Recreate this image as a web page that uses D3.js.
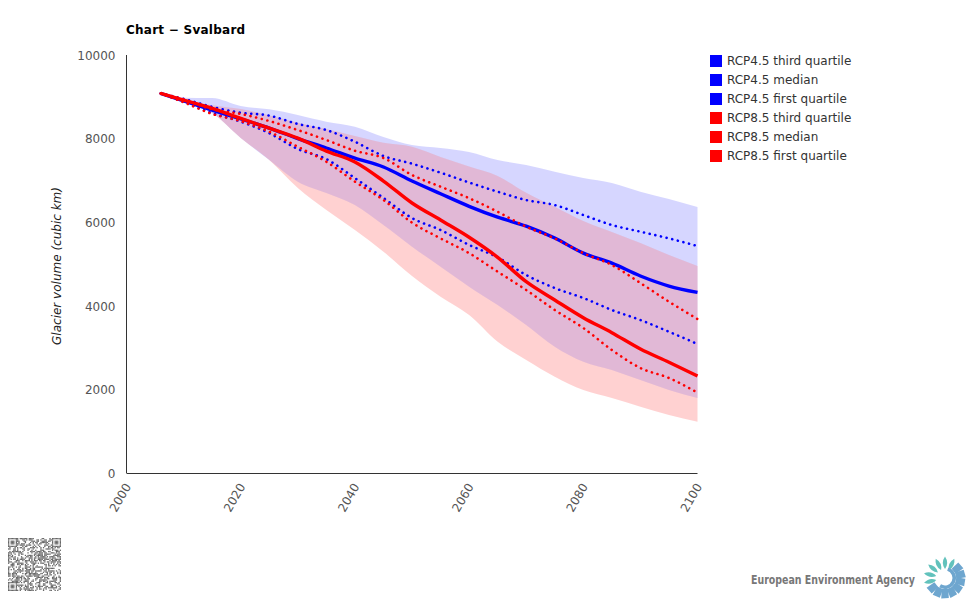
<!doctype html>
<html>
<head>
<meta charset="utf-8" />
<title>Chart - Svalbard</title>
<script src="https://cdn.jsdelivr.net/npm/d3@7"></script>
<style>
  body{margin:0;padding:0;background:#fff;}
  text{font-family:"DejaVu Sans",sans-serif;}
</style>
</head>
<body>
<script>
// years shared by all the series
var years = [2006,2010,2015,2020,2025,2030,2035,2040,2045,2050,2055,2060,2065,2070,2075,2080,2085,2090,2095,2100];

// medians and quartiles (cubic km)
var rcp45Median = [9080,8900,8680,8470,8250,8000,7775,7535,7320,6985,6680,6380,6120,5905,5620,5260,5020,4713,4473,4320];
var rcp45Q3     = [9080,8950,8760,8620,8550,8350,8205,7925,7584,7400,7185,6950,6730,6530,6410,6172,5933,5773,5613,5430];
var rcp45Q1     = [9080,8880,8610,8405,8130,7750,7510,7055,6580,6100,5813,5455,5160,4737,4425,4187,3900,3660,3380,3086];
var rcp85Median = [9080,8923,8725,8485,8250,8010,7700,7440,6985,6460,6052,5640,5160,4577,4140,3716,3357,2966,2650,2320];
var rcp85Q3     = [9080,8940,8700,8590,8420,8205,7966,7710,7535,7130,6850,6575,6250,5892,5613,5260,4976,4545,4098,3684];
var rcp85Q1     = [9080,8870,8590,8420,8165,7806,7447,6970,6531,5990,5613,5260,4816,4378,3900,3469,2943,2512,2273,1921];

// shaded ranges
var rcp45High = [9080,8980,8970,8780,8700,8565,8405,8285,8040,7847,7775,7680,7488,7368,7208,7057,6938,6730,6555,6364];
var rcp45Low  = [9080,8880,8610,8014,7488,6970,6700,6411,5933,5414,4935,4457,4019,3540,3022,2663,2464,2225,1986,1794];
var rcp85High = [9080,8950,8800,8708,8550,8380,8230,8062,7900,7806,7560,7330,7105,6705,6371,6029,5765,5500,5215,4952];
var rcp85Low  = [9080,8880,8610,8014,7488,6818,6292,5813,5294,4713,4218,3780,3141,2703,2304,1986,1794,1586,1388,1227];

var yTicks = [0,2000,4000,6000,8000,10000];
var xTicks = [2000,2020,2040,2060,2080,2100];
var legendLabels = ["RCP4.5 third quartile","RCP4.5 median","RCP4.5 first quartile","RCP8.5 third quartile","RCP8.5 median","RCP8.5 first quartile"];
var legendColors = ["#0000ff","#0000ff","#0000ff","#ff0000","#ff0000","#ff0000"];

var svg = d3.select("body").append("svg").attr("width",975).attr("height",600).style("display","block");

var x = d3.scaleLinear().domain([2000,2100]).range([126.5,697.5]);
var y = d3.scaleLinear().domain([0,10000]).range([473,55]);

svg.append("text").attr("x",126).attr("y",34).attr("font-size","12px").attr("font-weight","bold").attr("letter-spacing","0.25px").attr("fill","#000").text("Chart \u2212 Svalbard");

var area = d3.area().curve(d3.curveMonotoneX).x(function(d){return x(d.year);}).y0(function(d){return y(d.low);}).y1(function(d){return y(d.high);});
function bandPoints(high,low){
  return years.map(function(yr,i){return {year:yr,high:high[i],low:low[i]};});
}
function drawBand(high,low,color,opacity){
  return svg.append("path").datum(bandPoints(high,low)).attr("d",area).attr("fill",color).attr("fill-opacity",opacity);
}
function drawLine(values,color,dotted){
  var line = d3.line().curve(d3.curveMonotoneX).x(function(d,i){return x(years[i]);}).y(function(d){return y(d);});
  var p = svg.append("path").datum(values).attr("d",line).attr("fill","none").attr("stroke",color);
  if(dotted){
    p.attr("stroke-width",2.6).attr("stroke-linecap","round").attr("stroke-dasharray","0.1,5.7");
  } else {
    p.attr("stroke-width",3.4).attr("stroke-linejoin","round");
  }
}

drawBand(rcp45High,rcp45Low,"#0000ff",0.16);
drawBand(rcp85High,rcp85Low,"#ff0000",0.18);
// the overlap is a bit paler than plain alpha gives
svg.append("clipPath").attr("id","blueBand").append("path").attr("d",area(bandPoints(rcp45High,rcp45Low)));
drawBand(rcp85High,rcp85Low,"#ffffff",0.12).attr("clip-path","url(#blueBand)");

drawLine(rcp45Q3,"#0000ff",true);
drawLine(rcp45Median,"#0000ff",false);
drawLine(rcp45Q1,"#0000ff",true);
drawLine(rcp85Q3,"#ff0000",true);
drawLine(rcp85Median,"#ff0000",false);
drawLine(rcp85Q1,"#ff0000",true);

// axes, no tick marks
var yAxis = svg.append("g").attr("transform","translate(126.5,0)")
  .call(d3.axisLeft(y).tickValues(yTicks).tickSize(0).tickPadding(11).offset(0).tickFormat(d3.format("d")));
var xAxis = svg.append("g").attr("transform","translate(0,473.5)")
  .call(d3.axisBottom(x).tickValues(xTicks).tickSize(0).offset(0).tickFormat(d3.format("d")));
svg.selectAll(".domain").attr("stroke","#333").attr("stroke-width",1);
yAxis.selectAll("text").attr("font-size","12px").attr("fill","#555").attr("font-family","DejaVu Sans").attr("dy","0.4em");
xAxis.selectAll("text").attr("font-size","12px").attr("fill","#555").attr("font-family","DejaVu Sans")
  .attr("text-anchor","end").attr("dy",0).attr("y",0)
  .attr("transform","translate(5,13) rotate(-60)");

svg.append("text").attr("transform","translate(61,266) rotate(-90)").attr("text-anchor","middle")
  .attr("font-size","12px").attr("font-style","italic").attr("fill","#222").text("Glacier volume (cubic km)");

// legend
var legend = svg.selectAll(".legend").data(legendLabels).enter().append("g").attr("class","legend")
  .attr("transform",function(d,i){return "translate(710,"+(55+i*19)+")";});
legend.append("rect").attr("width",12).attr("height",12).attr("fill",function(d,i){return legendColors[i];});
legend.append("text").attr("x",17).attr("y",10).attr("font-size","12px").attr("fill","#333").text(function(d){return d;});

// qr style block, the modules are only a texture
var qrSize = 41, cell = 53/qrSize, seed = 7;
var qr = svg.append("g").attr("transform","translate(8,538)");
function isFinder(r,c){
  function block(r0,c0){return r>=r0&&r<r0+7&&c>=c0&&c<c0+7;}
  return block(0,0)||block(0,qrSize-7)||block(qrSize-7,0);
}
function finderOn(r,c){
  var a=(r<7?r:r-(qrSize-7)), b=(c<7?c:c-(qrSize-7));
  return a==0||a==6||b==0||b==6||(a>=2&&a<=4&&b>=2&&b<=4);
}
for(var r=0;r<qrSize;r++){
  for(var c=0;c<qrSize;c++){
    seed=(seed*75+74)%65537;
    var on=isFinder(r,c)?finderOn(r,c):(seed%100<48);
    if(on) qr.append("rect").attr("x",c*cell).attr("y",r*cell).attr("width",cell).attr("height",cell).attr("fill","#666");
  }
}

// EEA logo
svg.append("text").attr("x",751).attr("y",584).attr("font-family","Liberation Sans").attr("font-size","11.5px").attr("font-weight","bold").attr("fill","#777").attr("textLength",164).attr("lengthAdjust","spacingAndGlyphs").text("European Environment Agency");
var logo = svg.append("g").attr("transform","translate(945,578)");
d3.range(14).forEach(function(i){
  var a = i*360/14 - 90;
  var teal = a < -55 || a > 150;
  if(teal){
    logo.append("path").attr("d","M9,0 Q15,-4.4 21.5,0 Q15,4.4 9,0 Z").attr("fill","#62c2bc").attr("transform","rotate("+a+")");
  } else {
    logo.append("path").attr("d","M11,-3.2 L20,-3.8 L20.5,3.8 L11,3.2 Z").attr("fill","#6ea6cf").attr("transform","rotate("+a+")");
  }
});
logo.append("path").attr("d",d3.arc().innerRadius(7.5).outerRadius(11).startAngle(0.3).endAngle(3.7)()).attr("fill","#6ea6cf");
</script>
</body>
</html>
